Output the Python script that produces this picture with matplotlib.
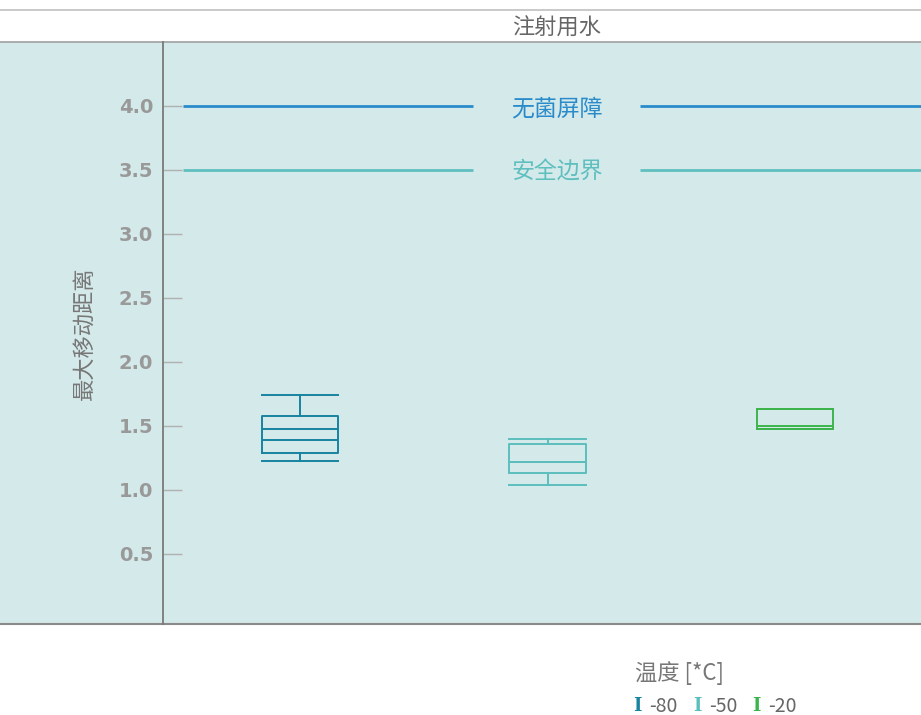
import matplotlib
matplotlib.use("Agg")
import matplotlib.pyplot as plt
from matplotlib.lines import Line2D
from matplotlib.patches import Rectangle

plt.rcParams['font.family'] = ['Noto Sans CJK SC', 'DejaVu Sans']

# data
temps = ['-80', '-50', '-20']
colors = ['#17839f', '#5cbdbd', '#3db44b']
whislo = [1.23, 1.04, 1.48]
q1 = [1.29, 1.13, 1.48]
med = [1.48, 1.22, 1.63]
mean = [1.39, 1.22, 1.50]
q3 = [1.58, 1.36, 1.63]
whishi = [1.74, 1.40, 1.63]

ref_values = [4.0, 3.5]
ref_labels = ['无菌屏障', '安全边界']
ref_colors = ['#2a8bcb', '#5fbfbf']

yticks = [0.5, 1.0, 1.5, 2.0, 2.5, 3.0, 3.5, 4.0]

W, H = 921, 715
panel_bg = '#d4e9e9'

fig = plt.figure(figsize=(W / 100, H / 100), dpi=100)
fig.patch.set_facecolor('white')

# panel background and frame lines (figure pixels -> fraction)
top_px, bot_px, left_px = 42, 624, 163
fig.add_artist(Rectangle((0, 1 - bot_px / H), 1, (bot_px - top_px) / H,
                         transform=fig.transFigure, facecolor=panel_bg,
                         edgecolor='none', zorder=-5))
fig.add_artist(Line2D([0, 1], [1 - bot_px / H] * 2, transform=fig.transFigure,
                      color='#8a8a8a', lw=1.5, zorder=-4))
fig.add_artist(Line2D([0, 1], [1 - top_px / H] * 2, transform=fig.transFigure,
                      color='#a0a0a0', lw=1.2, zorder=-4))
fig.add_artist(Line2D([0, 1], [1 - 9.5 / H] * 2, transform=fig.transFigure,
                      color='#c0c0c0', lw=1.2, zorder=-4))

ax = fig.add_axes([left_px / W, 1 - bot_px / H, 1 - left_px / W, (bot_px - top_px) / H])
ax.set_facecolor('none')
ax.set_zorder(2)

unit = 247.5
x0 = (300 - left_px) / unit
ax.set_xlim(-x0, (W - left_px) / unit - x0)
ax.set_ylim(-0.047, 4.5)

for s in ['top', 'right', 'bottom']:
    ax.spines[s].set_visible(False)
ax.spines['left'].set_color('#7a7a7a')
ax.spines['left'].set_linewidth(1.3)

ax.set_xticks([])
ax.set_yticks(yticks)
ax.set_yticklabels([f'{v:.1f}' for v in yticks])
ax.tick_params(axis='y', direction='in', length=13.7, width=1, color='#b0b0b0',
               pad=7, labelsize=14, labelcolor='#999999')
for lbl in ax.get_yticklabels():
    lbl.set_fontweight('bold')
    lbl.set_family('DejaVu Sans')

ax.set_ylabel('最大移动距离', fontsize=16, color='#777777')
ax.yaxis.set_label_coords(-(163 - 96) / (W - left_px), 0.5)

# reference lines, broken around their labels
line_start = (183 - 300) / unit
gap_lo = (473 - 300) / unit
gap_hi = (640 - 300) / unit
text_x = (557 - 300) / unit
for v, lab, c in zip(ref_values, ref_labels, ref_colors):
    ax.hlines(v, line_start, gap_lo, color=c, lw=2)
    ax.hlines(v, gap_hi, ax.get_xlim()[1], color=c, lw=2)
    ax.text(text_x, v - 0.02, lab, color=c, fontsize=16.5, ha='center', va='center')

# box plots
for i in range(len(temps)):
    stats = [dict(whislo=whislo[i], q1=q1[i], med=med[i], mean=mean[i],
                  q3=q3[i], whishi=whishi[i], fliers=[])]
    c = colors[i]
    lp = dict(color=c, linewidth=1.4)
    ax.bxp(stats, positions=[i], widths=0.31, showmeans=True, meanline=True,
           boxprops=lp, whiskerprops=lp, capprops=lp, medianprops=lp,
           meanprops=dict(color=c, linewidth=1.4, linestyle='-'),
           capwidths=0.31, manage_ticks=False)

# title
fig.text(557 / W, 1 - 28 / H, '注射用水', fontsize=16, color='#666666',
         ha='center', va='center')

# legend
fig.text(635 / W, 1 - 673 / H, '温度 [*C]', fontsize=16, color='#777777',
         ha='left', va='center')
leg_x = [633, 693, 752]
for lx, t, c in zip(leg_x, temps, colors):
    fig.text(lx / W, 1 - 706 / H, 'I', fontsize=13, color=c, fontweight='bold',
             family='DejaVu Serif', ha='left', va='center')
    fig.text((lx + 16) / W, 1 - 706 / H, t, fontsize=14, color='#666666',
             ha='left', va='center')

fig.savefig('out.png', dpi=100, facecolor='white')
